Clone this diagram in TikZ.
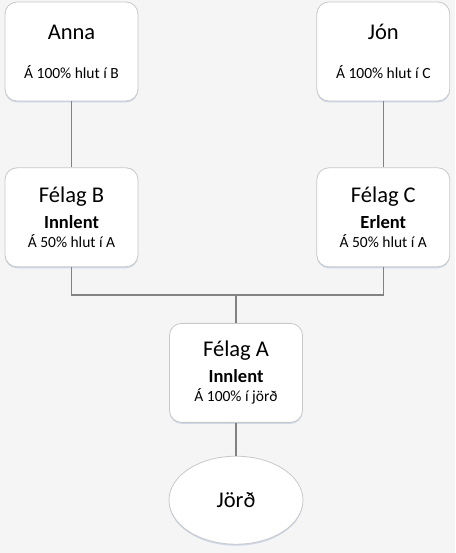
\documentclass[tikz,border=0pt]{standalone}
\usepackage{fontspec}
\setmainfont{Carlito}
\usetikzlibrary{positioning,calc,shapes.geometric,shadows}
\definecolor{bggrey}{RGB}{245,245,245}
\definecolor{boxline}{RGB}{200,200,200}
\definecolor{linkgrey}{RGB}{130,130,130}
\definecolor{shadowblue}{RGB}{180,198,225}
\newcommand{\nafn}[1]{{\fontsize{22.5}{26}\selectfont #1}}
\newcommand{\texti}[1]{{\fontsize{15.5}{18}\selectfont #1}}
\newcommand{\sterkt}[1]{{\fontsize{18.5}{22}\selectfont\bfseries #1}}

\begin{document}
\begin{tikzpicture}[x=1pt, y=1pt,
    owner/.style={rectangle, draw=boxline, fill=white, rounded corners=12pt,
        minimum width=133pt, minimum height=99pt, align=center, line width=0.8pt,
        drop shadow={shadow xshift=0pt, shadow yshift=-1.5pt, opacity=0.6, fill=shadowblue}},
    land/.style={ellipse, draw=boxline, fill=white, inner sep=0pt,
        minimum width=134pt, minimum height=88pt, line width=0.8pt,
        drop shadow={shadow xshift=0pt, shadow yshift=-1.5pt, opacity=0.6, fill=shadowblue}},
    link/.style={draw=linkgrey, line width=1.5pt}
]
\fill[bggrey] (0,0) rectangle (455,553);
\useasboundingbox (0,0) rectangle (455,553);

% eigendur
\node[owner] (anna) at (71.5,501.5) {\nafn{Anna}\\[25pt]\texti{Á 100\% hlut í B}};
\node[owner, right=178pt of anna] (jon) {\nafn{Jón}\\[25pt]\texti{Á 100\% hlut í C}};

% felog
\node[owner, below=66pt of anna] (felB) {\nafn{Félag B}\\[8pt]\sterkt{Innlent}\\[5pt]\texti{Á 50\% hlut í A}};
\node[owner, below=66pt of jon] (felC) {\nafn{Félag C}\\[8pt]\sterkt{Erlent}\\[5pt]\texti{Á 50\% hlut í A}};

\coordinate (join) at (236,258);
\node[owner, below=28pt of join, anchor=north] (felA) {\nafn{Félag A}\\[8pt]\sterkt{Innlent}\\[5pt]\texti{Á 100\% í jörð}};
\node[land, below=33pt of felA] (jord) {\nafn{Jörð}};

\draw[link] (anna) -- (felB);
\draw[link] (jon) -- (felC);
\draw[link] (felB.south) |- (join) -| (felC.south);
\draw[link] (join) -- (felA);
\draw[link] (felA) -- (jord);
\end{tikzpicture}
\end{document}
